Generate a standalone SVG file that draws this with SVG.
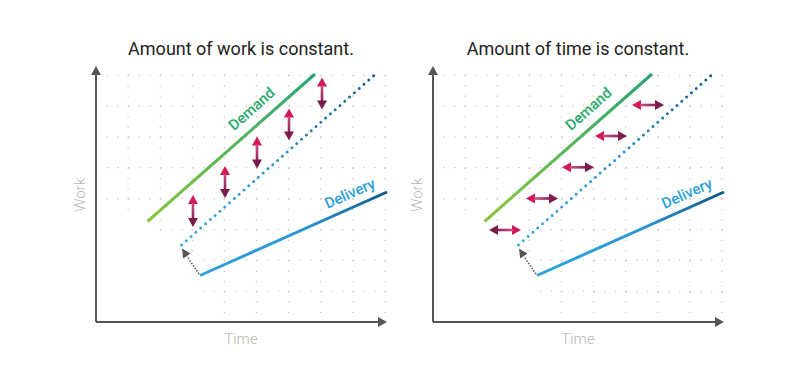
<svg xmlns="http://www.w3.org/2000/svg" xmlns:xlink="http://www.w3.org/1999/xlink" width="800" height="388" viewBox="0 0 800 388">
  <defs>
    <style>
      .title { font-family: Roboto, "Liberation Sans", sans-serif; font-size: 18px; fill: #222; text-anchor: middle; }
      .axlabel { font-family: Roboto, "Liberation Sans", sans-serif; font-weight: 300; font-size: 15px; fill: #b5b5b5; text-anchor: middle; }
      .lbl { font-family: Roboto, "Liberation Sans", sans-serif; font-weight: 500; font-size: 15px; text-anchor: middle; }
      .gridh { stroke: #c4c4c4; stroke-width: 1.2; stroke-dasharray: 1.2 9.5; fill: none; }
      .gridv { stroke: #c4c4c4; stroke-width: 1.2; stroke-dasharray: 1.2 9.1; fill: none; }
      .axis { stroke: #555; stroke-width: 2; fill: none; }
      .axhead { fill: #555; }
      .demand { stroke: url(#gDemand); stroke-width: 3; fill: none; }
      .target { stroke: url(#gTarget); stroke-width: 3; stroke-dasharray: 0 6.4; stroke-linecap: round; fill: none; }
      .delivery { stroke: url(#gDelivery); stroke-width: 3; fill: none; }
      .shift { stroke: #555; stroke-width: 1.5; stroke-dasharray: 1.5 1.5; fill: none; }
    </style>
    <linearGradient id="gDemand" x1="0" y1="1" x2="1" y2="0">
      <stop offset="0" stop-color="#8dc63f"/>
      <stop offset="1" stop-color="#25a476"/>
    </linearGradient>
    <linearGradient id="gTarget" x1="0" y1="1" x2="1" y2="0">
      <stop offset="0" stop-color="#38a8e0"/>
      <stop offset="0.5" stop-color="#2b95cf"/>
      <stop offset="1" stop-color="#0e5a8a"/>
    </linearGradient>
    <linearGradient id="gDelivery" x1="0" y1="1" x2="1" y2="0">
      <stop offset="0" stop-color="#2ea3de"/>
      <stop offset="0.55" stop-color="#2b97d2"/>
      <stop offset="1" stop-color="#0b5888"/>
    </linearGradient>
    <linearGradient id="gShaftV" x1="0" y1="0" x2="0" y2="1">
      <stop offset="0" stop-color="#cf4f7f"/>
      <stop offset="1" stop-color="#8a2356"/>
    </linearGradient>
    <linearGradient id="gShaftH" x1="0" y1="0" x2="1" y2="0">
      <stop offset="0" stop-color="#cf4f7f"/>
      <stop offset="1" stop-color="#8a2356"/>
    </linearGradient>
    <g id="varrow">
      <polygon points="0,0 5,9 -5,9" fill="#d4175a"/>
      <rect x="-1.3" y="8" width="2.6" height="16" fill="url(#gShaftV)"/>
      <polygon points="0,32 5,23 -5,23" fill="#7b1b4c"/>
    </g>
    <g id="harrow">
      <polygon points="0,0 9,-5 9,5" fill="#d4175a"/>
      <rect x="8" y="-1.3" width="16" height="2.6" fill="url(#gShaftH)"/>
      <polygon points="32,0 23,-5 23,5" fill="#7b1b4c"/>
    </g>
  </defs>

  <rect width="800" height="388" fill="#fff"/>

  <!-- ===== Left panel ===== -->
  <g id="left-panel">
    <text id="title-left" class="title" x="241" y="55">Amount of work is constant.</text>
    <g id="grid-left">
      <path class="gridh" d="M96,75H386M96,105.9H386M96,136.8H386M96,167.7H386M96,198.6H386M96,229.5H386M96,260.4H386M96,291.3H386"/>
      <path class="gridv" d="M128.1,75V322M160.2,75V322M192.3,75V322M224.4,75V322M256.5,75V322M288.6,75V322M320.7,75V322M352.8,75V322M384.9,75V322"/>
      <polygon points="97,214 157,214 157,235 189,235 189,256 200,256 200,321 97,321" fill="#fff"/>
    </g>
    <g id="axes-left">
      <path class="axis" d="M96,322V74M96,322H379"/>
      <polygon class="axhead" points="96,66 101,75 91,75"/>
      <polygon class="axhead" points="387,322 378,317 378,327"/>
      <text class="axlabel" x="241" y="344">Time</text>
      <text class="axlabel" transform="translate(85,195) rotate(-90)" x="0" y="0">Work</text>
    </g>
    <g id="demand-left">
      <line class="demand" x1="147.5" y1="221.5" x2="315" y2="74"/>
      <text class="lbl" fill="#2aa86c" transform="translate(251.7,109) rotate(-41.5)" x="0" y="5">Demand</text>
    </g>
    <g id="target-left">
      <line class="target" x1="181.5" y1="245" x2="374.5" y2="75"/>
    </g>
    <g id="delivery-left">
      <line class="delivery" x1="200" y1="275.5" x2="387" y2="192"/>
      <text class="lbl" fill="#2b9fdc" transform="translate(350,193.5) rotate(-24)" x="0" y="5">Delivery</text>
    </g>
    <g id="connectors-left">
      <line class="shift" x1="199" y1="274" x2="187" y2="256.5"/>
      <polygon points="182,248.5 190.5,253.5 183.2,258.5" fill="#555"/>
      <use xlink:href="#varrow" x="193" y="195"/>
      <use xlink:href="#varrow" x="225" y="166"/>
      <use xlink:href="#varrow" x="257" y="136.5"/>
      <use xlink:href="#varrow" x="289" y="108.5"/>
      <use xlink:href="#varrow" x="322" y="77.5"/>
    </g>
  </g>

  <!-- ===== Right panel ===== -->
  <g id="right-panel">
    <text id="title-right" class="title" x="578" y="55">Amount of time is constant.</text>
    <g id="grid-right" transform="translate(337,0)">
      <path class="gridh" d="M96,75H386M96,105.9H386M96,136.8H386M96,167.7H386M96,198.6H386M96,229.5H386M96,260.4H386M96,291.3H386"/>
      <path class="gridv" d="M128.1,75V322M160.2,75V322M192.3,75V322M224.4,75V322M256.5,75V322M288.6,75V322M320.7,75V322M352.8,75V322M384.9,75V322"/>
      <polygon points="97,214 157,214 157,235 189,235 189,256 200,256 200,321 97,321" fill="#fff"/>
    </g>
    <g id="axes-right">
      <path class="axis" d="M433,322V74M433,322H716"/>
      <polygon class="axhead" points="433,66 438,75 428,75"/>
      <polygon class="axhead" points="724,322 715,317 715,327"/>
      <text class="axlabel" x="578" y="344">Time</text>
      <text class="axlabel" transform="translate(422,195) rotate(-90)" x="0" y="0">Work</text>
    </g>
    <g id="demand-right">
      <line class="demand" x1="484.5" y1="221.5" x2="652" y2="74"/>
      <text class="lbl" fill="#2aa86c" transform="translate(588.7,109) rotate(-41.5)" x="0" y="5">Demand</text>
    </g>
    <g id="target-right">
      <line class="target" x1="518.5" y1="245" x2="711.5" y2="75"/>
    </g>
    <g id="delivery-right">
      <line class="delivery" x1="537" y1="275.5" x2="724" y2="192"/>
      <text class="lbl" fill="#2b9fdc" transform="translate(687,193.5) rotate(-24)" x="0" y="5">Delivery</text>
    </g>
    <g id="connectors-right">
      <line class="shift" x1="536" y1="274" x2="524" y2="256.5"/>
      <polygon points="519,248.5 527.5,253.5 520.2,258.5" fill="#555"/>
      <use xlink:href="#harrow" transform="translate(521,230) scale(-1,1)"/>
      <use xlink:href="#harrow" x="526" y="198.5"/>
      <use xlink:href="#harrow" x="562" y="167.3"/>
      <use xlink:href="#harrow" x="595" y="136"/>
      <use xlink:href="#harrow" x="632" y="105"/>
    </g>
  </g>
</svg>
